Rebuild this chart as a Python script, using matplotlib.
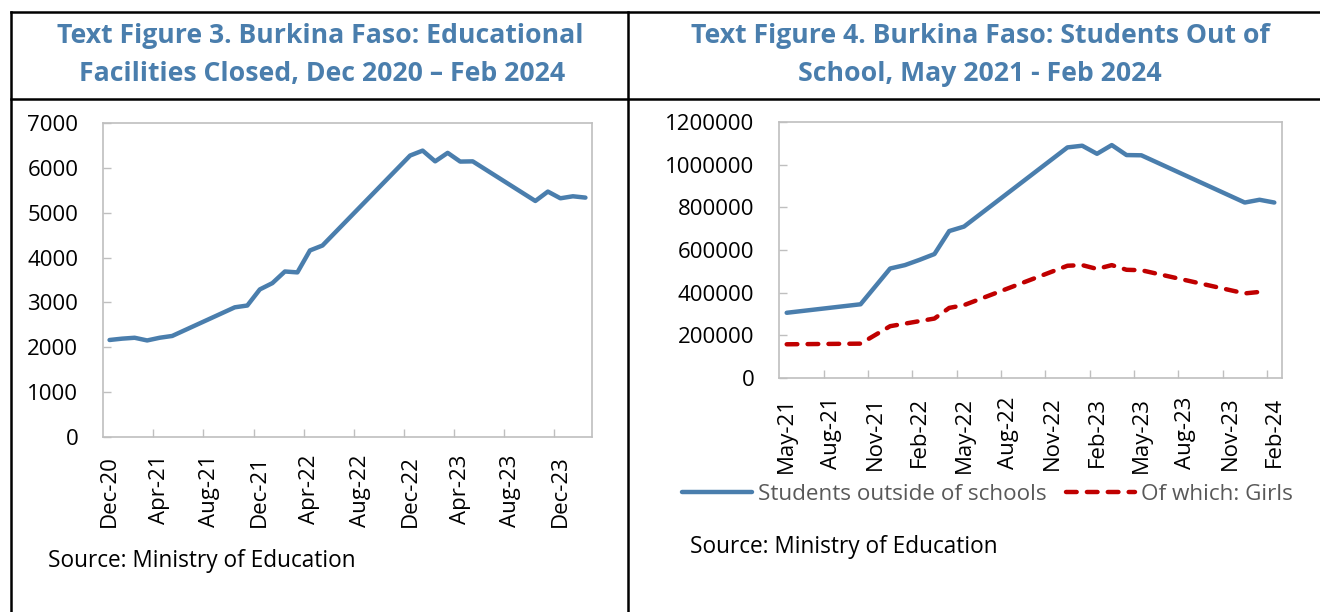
import matplotlib
matplotlib.use("Agg")
import matplotlib.pyplot as plt
from matplotlib.lines import Line2D
from matplotlib.ticker import StrMethodFormatter
import pandas as pd

plt.rcParams['font.family'] = ['Open Sans', 'DejaVu Sans']

# Text Figure 3: educational facilities closed
fac_months = ['Dec-20', 'Jan-21', 'Feb-21', 'Mar-21', 'Apr-21', 'May-21',
              'Oct-21', 'Nov-21', 'Dec-21', 'Jan-22', 'Feb-22', 'Mar-22',
              'Apr-22', 'May-22', 'Dec-22', 'Jan-23', 'Feb-23', 'Mar-23',
              'Apr-23', 'May-23', 'Oct-23', 'Nov-23', 'Dec-23', 'Jan-24', 'Feb-24']
fac_closed = [2160, 2190, 2210, 2150, 2210, 2250,
              2890, 2930, 3290, 3430, 3690, 3670,
              4160, 4270, 6280, 6390, 6150, 6340,
              6145, 6150, 5265, 5475, 5325, 5370, 5340]
fac_labels = ['Dec-20', 'Apr-21', 'Aug-21', 'Dec-21', 'Apr-22', 'Aug-22',
              'Dec-22', 'Apr-23', 'Aug-23', 'Dec-23']

# Text Figure 4: students out of school
stu_months = ['May-21', 'Oct-21', 'Dec-21', 'Jan-22', 'Feb-22', 'Mar-22',
              'Apr-22', 'May-22', 'Dec-22', 'Jan-23', 'Feb-23', 'Mar-23',
              'Apr-23', 'May-23', 'Dec-23', 'Jan-24', 'Feb-24']
stu_total = [305000, 345000, 513000, 529000, 554000, 581000,
             689000, 710000, 1082000, 1090000, 1052000, 1093000,
             1046000, 1045000, 823000, 836000, 823000]
girl_months = ['May-21', 'Oct-21', 'Dec-21', 'Jan-22', 'Feb-22', 'Mar-22',
               'Apr-22', 'May-22', 'Dec-22', 'Jan-23', 'Feb-23', 'Mar-23',
               'Apr-23', 'May-23', 'Dec-23', 'Jan-24']
girl_total = [157000, 160000, 242000, 254000, 266000, 278000,
              328000, 341000, 526000, 529000, 511000, 529000,
              507000, 505000, 396000, 403000]
stu_labels = ['May-21', 'Aug-21', 'Nov-21', 'Feb-22', 'May-22', 'Aug-22',
              'Nov-22', 'Feb-23', 'May-23', 'Aug-23', 'Nov-23', 'Feb-24']

BLUE = '#4A7EAD'
RED = '#C00000'
GRID = '#BFBFBF'
W, H = 1320, 612


def month_index(labels, start):
    d = pd.to_datetime(labels, format='%b-%y')
    s = pd.to_datetime(start, format='%b-%y')
    return [(x.year - s.year) * 12 + x.month - s.month for x in d]


def style_axis(ax, xlabels, start, xmax, ypad, xpad):
    pos = month_index(xlabels, start)
    ax.set_xlim(-0.5, xmax + 0.5)
    ax.set_xticks(pos)
    ax.set_xticklabels(xlabels, rotation=90, va='top')
    ax.set_xticks([p - 0.5 for p in pos[1:]], minor=True)
    ax.yaxis.set_major_formatter(StrMethodFormatter('{x:.0f}'))
    ax.tick_params(axis='x', which='major', length=0, pad=xpad, labelsize=16)
    ax.tick_params(axis='x', which='minor', direction='in', length=5.8, width=1, color=GRID)
    ax.tick_params(axis='y', direction='in', length=5.8, width=1, color=GRID, pad=ypad, labelsize=16)
    for sp in ax.spines.values():
        sp.set_color(GRID)
        sp.set_linewidth(1.2)


fig = plt.figure(figsize=(W / 100, H / 100), dpi=100)

# left chart
ax1 = fig.add_axes([103.3 / W, 1 - 436.7 / H, 488.4 / W, 313.4 / H])
ax1.plot(month_index(fac_months, 'Dec-20'), fac_closed, color=BLUE, lw=3.2,
         solid_capstyle='round', solid_joinstyle='round')
ax1.set_ylim(0, 7000)
ax1.set_yticks(range(0, 7001, 1000))
style_axis(ax1, fac_labels, 'Dec-20', 38, 18, 13)

# right chart
ax2 = fig.add_axes([779.3 / W, 1 - 377.7 / H, 502.4 / W, 255.4 / H])
ax2.plot(month_index(stu_months, 'May-21'), stu_total, color=BLUE, lw=3.2,
         solid_capstyle='round', solid_joinstyle='round', label='Students outside of schools')
ax2.plot(month_index(girl_months, 'May-21'), girl_total, color=RED, lw=3.2,
         dashes=(2.4, 2.3), dash_capstyle='round', dash_joinstyle='round',
         label='Of which: Girls')
ax2.set_ylim(0, 1200000)
ax2.set_yticks(range(0, 1200001, 200000))
style_axis(ax2, stu_labels, 'May-21', 33, 18, 13.7)

leg = fig.legend(loc='center left', bbox_to_anchor=(682 / W, 1 - 494 / H), ncol=2,
                 frameon=False, fontsize=16.2, handlelength=3.1, handletextpad=0.27,
                 columnspacing=0.85, borderpad=0, borderaxespad=0)
for t in leg.get_texts():
    t.set_color('#595959')

# titles
title_kw = dict(color=BLUE, fontsize=19.2, fontweight='bold', ha='center', va='baseline')
fig.text(320 / W, 1 - 43.3 / H, 'Text Figure 3. Burkina Faso: Educational', **title_kw)
fig.text(322 / W, 1 - 81 / H, 'Facilities Closed, Dec 2020 \u2013 Feb 2024', **title_kw)
fig.text(980 / W, 1 - 43.3 / H, 'Text Figure 4. Burkina Faso: Students Out of', **title_kw)
fig.text(980 / W, 1 - 81 / H, 'School, May 2021 - Feb 2024', **title_kw)

# sources
fig.text(48 / W, 1 - 567 / H, 'Source: Ministry of Education', fontsize=16.3, va='baseline')
fig.text(690 / W, 1 - 553 / H, 'Source: Ministry of Education', fontsize=16.3, va='baseline')

# table borders
line_kw = dict(color='black', lw=1.8, transform=fig.transFigure)
fig.add_artist(Line2D([11 / W, 1], [1 - 12 / H, 1 - 12 / H], **line_kw))
fig.add_artist(Line2D([11 / W, 1], [1 - 98.5 / H, 1 - 98.5 / H], **line_kw))
fig.add_artist(Line2D([11 / W, 11 / W], [1 - 12 / H, 0], **line_kw))
fig.add_artist(Line2D([628.3 / W, 628.3 / W], [1 - 12 / H, 0], **line_kw))

plt.savefig('out.png', dpi=100)
